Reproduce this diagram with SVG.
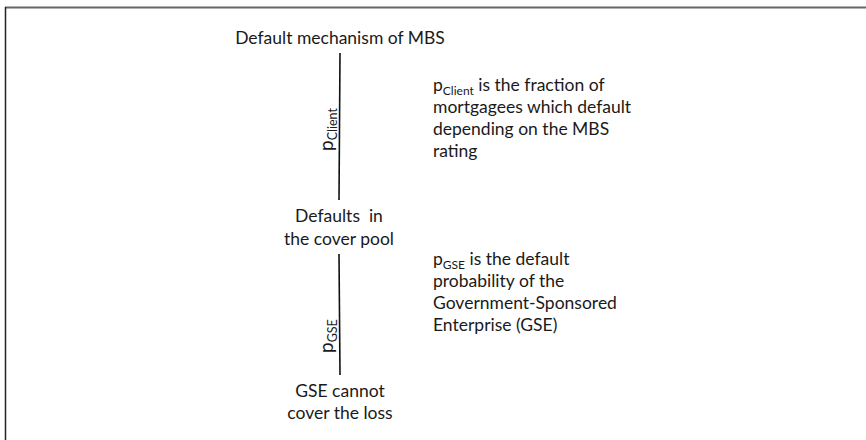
<svg xmlns="http://www.w3.org/2000/svg" width="866" height="440" viewBox="0 0 866 440">
<style>
text{font-family:Lato,"Open Sans","Liberation Sans",sans-serif;font-size:17.5px;fill:#1a1a1a}
.c{text-anchor:middle}
.sub{font-size:12px}
.lbl{font-size:19px}
.lsub{font-size:12.5px}
.edge{stroke:#111;stroke-width:1.6;fill:none}
</style>
<rect width="866" height="440" fill="#fff"/>
<line x1="5" y1="7.5" x2="866" y2="7.5" stroke="#666" stroke-width="2"/>
<line x1="5.5" y1="7" x2="5.5" y2="440" stroke="#222" stroke-width="1.5"/>
<g id="n1"><text class="c" x="340" y="44">Default mechanism of MBS</text></g>
<g id="n2"><text class="c" x="339" y="222" style="white-space:pre">Defaults  in</text><text class="c" x="339" y="245">the cover pool</text></g>
<g id="n3"><text class="c" x="340" y="397">GSE cannot</text><text class="c" x="340" y="419">cover the loss</text></g>
<g id="connectors">
<line class="edge" x1="340" y1="53" x2="339" y2="200"/>
<text class="lbl" transform="translate(333,151) rotate(-90)">p<tspan class="lsub" dy="4">Client</tspan></text>
<line class="edge" x1="339" y1="254" x2="340" y2="375"/>
<text class="lbl" transform="translate(333,353) rotate(-90)">p<tspan class="lsub" dy="4">GSE</tspan></text>
</g>
<g id="note1">
<text x="433" y="91">p<tspan class="sub" dy="4">Client</tspan><tspan dy="-4"> is the fraction of</tspan></text>
<text x="433" y="113">mortgagees which default</text>
<text x="433" y="135">depending on the MBS</text>
<text x="433" y="157">rating</text>
</g>
<g id="note2">
<text x="433" y="265">p<tspan class="sub" dy="4">GSE</tspan><tspan dy="-4"> is the default</tspan></text>
<text x="433" y="287">probability of the</text>
<text x="433" y="309">Government-Sponsored</text>
<text x="433" y="331">Enterprise (GSE)</text>
</g>
</svg>
